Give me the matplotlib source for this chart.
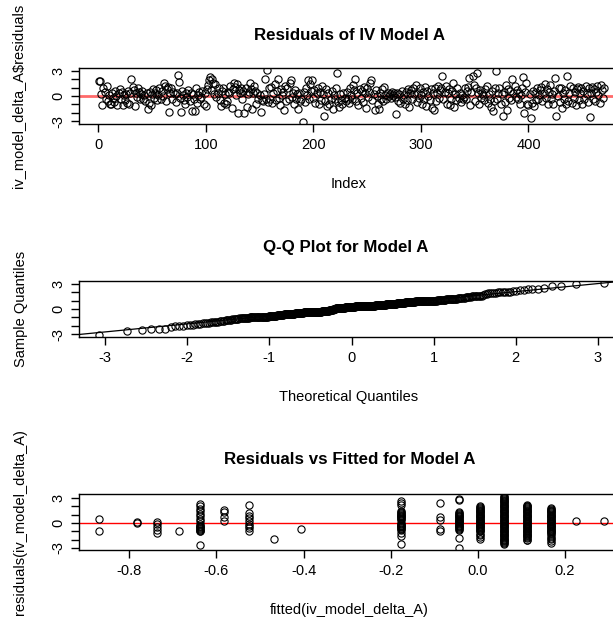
import matplotlib
matplotlib.use("Agg")
import matplotlib.pyplot as plt
import numpy as np
from statistics import NormalDist

plt.rcParams['font.family'] = ['Liberation Sans', 'DejaVu Sans']
plt.rcParams['axes.unicode_minus'] = False

# residuals in index order
resid = [
    1.8, 1.8, 0.2, -1.1, 0.9, 0.5, -0.3, 1.2, -0.6, 0.1,
    -0.9, -1.0, 0.4, -0.2, -0.7, 0.6, 0.0, -1.1, 0.3, 0.8,
    -0.4, 0.5, -1.1, 0.1, -0.5, 0.2, -0.8, 0.6, -1.0, 0.3,
    2.0, 1.1, 0.7, -1.2, 0.4, -0.1, 0.9, 0.5, -0.3, 0.2,
    0.6, -0.4, 0.1, -0.6, 0.3, -1.5, -0.8, 0.5, -1.1, 0.2,
    0.8, -0.2, 0.4, 0.7, -0.5, 0.1, 0.9, -0.3, 0.6, 0.0,
    1.5, 1.2, -0.6, 0.8, 1.1, -1.9, 0.3, 1.0, -0.4, 0.5,
    0.2, -0.7, 0.4, 2.5, 1.7, -0.2, -1.9, 0.6, 0.1, -0.5,
    -0.9, 0.3, -0.1, 0.7, -0.6, 0.4, -1.8, 0.2, -0.3, -1.8,
    0.9, -0.8, 0.1, 0.5, -0.4, -0.1, 0.6, -1.0, 0.3, -1.2,
    0.8, 1.3, 1.9, 2.3, 0.7, 2.0, 1.6, 0.2, 1.4, -0.1,
    0.4, 0.9, -0.5, -1.2, 0.6, 1.0, -0.8, 0.2, -1.0, -0.6,
    0.5, 0.3, 1.2, -1.4, 0.8, 1.5, 1.1, 0.1, 1.4, -2.0,
    0.7, 0.4, 1.0, -0.3, 0.6, -2.0, 0.9, -1.3, 0.2, 0.5,
    1.5, 0.8, -1.6, 0.3, 1.2, 0.6, -0.9, 0.4, -0.4, 0.1,
    -1.9, -0.5, -0.6, 0.2, 2.0, -0.3, 3.1, -0.7, 0.9, -0.4,
    1.1, -0.8, 0.3, 1.4, -0.5, 0.6, 2.0, -0.2, -1.1, 0.8,
    0.1, 0.5, -1.7, 1.2, -0.6, 0.9, -0.3, 1.6, 1.9, -0.1,
    0.4, -0.9, 0.7, -0.4, 0.2, -1.5, 0.3, -0.6, -0.3, -3.1,
    0.5, -0.7, 1.0, 0.1, 1.9, -0.4, 1.4, 0.6, 1.9, -0.2,
    0.7, -0.8, 0.3, 0.9, -1.0, 0.5, -0.5, 1.2, 0.2, -2.4,
    -0.6, 0.8, -1.2, 0.4, -0.9, -0.3, 0.6, -1.6, 0.1, -0.4,
    0.9, 2.7, -0.7, -1.3, 0.2, -0.5, -0.9, 0.3, -0.2, -0.6,
    0.5, -0.3, -0.8, 1.0, 0.1, -0.4, 1.3, 0.7, 2.0, -0.6,
    0.4, -1.1, 0.8, -0.2, 0.6, -0.7, 1.1, 0.3, -1.4, 0.9,
    -0.1, 0.5, 1.6, 1.9, -0.5, 0.2, -1.7, 0.7, 0.0, -0.9,
    -1.6, 0.4, -0.3, 0.8, -0.6, 1.1, 0.1, -0.4, 0.3, 0.0,
    0.2, -0.2, 0.5, 0.1, 0.3, -0.1, -2.1, 0.4, -0.6, 0.2,
    -0.8, 0.6, -0.3, 0.1, -1.0, 0.5, -0.5, 0.8, -1.3, 0.3,
    0.7, -0.4, 1.0, 0.2, 1.3, -0.7, 0.4, -0.2, 0.9, 0.1,
    -0.9, 0.5, -0.3, 1.1, -1.2, 0.6, 0.0, -0.5, 0.8, -1.4,
    0.3, -1.7, 0.9, -0.6, 0.4, 1.2, -0.2, 0.7, 1.0, 2.4,
    -0.4, 0.5, 1.2, -1.0, 0.3, 0.8, -1.1, -0.3, 0.6, 1.5,
    -1.3, 0.2, -0.5, 1.0, -0.2, 0.4, -0.7, 0.1, -0.4, -0.1,
    0.9, -0.3, 0.6, 1.1, 2.2, -1.1, 0.5, 2.4, 1.3, -0.6,
    1.0, 2.8, 0.4, -0.9, 0.7, -0.2, 0.3, 0.1, -0.5, 0.8,
    1.2, -0.8, 0.2, -0.4, -1.3, 0.6, -1.8, -0.6, 0.9, 3.0,
    -0.3, 0.4, 1.0, -0.9, 0.2, -2.4, 0.5, -0.7, 1.3, -1.7,
    0.8, -0.2, 0.6, -0.5, 2.0, 0.3, 1.2, -0.1, 0.7, -0.4,
    0.4, -0.9, 0.1, 1.0, 2.3, -2.0, 0.5, 1.5, -1.0, -1.1,
    0.2, -2.6, -0.8, 0.6, -1.2, 0.3, -0.5, 0.9, -0.3, 0.1,
    0.7, 1.1, -0.6, 0.4, 1.4, -0.2, 0.8, -1.0, 0.5, 1.3,
    -0.4, 0.2, -0.9, 0.6, 2.1, -2.4, 0.0, 0.9, -0.7, 1.0,
    -1.4, 0.3, -0.3, 0.7, -1.0, 2.4, -0.6, 0.4, 1.2, -0.8,
    0.9, -0.2, 0.5, -1.1, 0.8, 1.1, -0.5, 0.3, 1.0, -0.9,
    0.6, -0.3, 1.2, 0.2, -0.7, 0.9, -2.5, 0.4, 1.1, -0.4,
    0.8, -0.6, 0.5, 1.2, 0.1, -0.8, 1.3, 0.7, -0.2, 0.9,
]

# residuals vs fitted: fitted levels and the residuals seen at each level
fit_levels = [-0.869, -0.783, -0.737, -0.686, -0.637, -0.582, -0.526, -0.468, -0.406,
              -0.177, -0.088, -0.043, 0.006, 0.059, 0.112, 0.167, 0.226, 0.289]
fit_resid = [
    [0.5, -0.9],
    [0.1, 0.0],
    [0.15, -0.15, -0.5, -0.8, -1.2],
    [-0.9],
    [2.3, 2.0, 1.7, 1.45, 1.1, 0.8, 0.5, 0.25, -0.1, -0.3, -0.4, -0.5, -0.6, -0.7,
     -0.8, -0.9, -1.0, -2.6],
    [1.6, 1.3, 0.7, 0.3],
    [2.15, 1.2, 0.9, 0.55, 0.25, -0.1, -0.3, -0.55, -0.9],
    [-1.9],
    [-0.7],
    [2.6, 2.4, 2.2, 1.4, 1.3, 1.2, 1.1, 1.0, 0.9, 0.8, 0.7, 0.6, 0.5, 0.4, 0.05, -0.1,
     -0.2, -0.3, -0.4, -0.5, -0.6, -0.7, -0.8, -1.2, -1.6, -2.5],
    [2.4, 0.7, 0.4, -0.7, -0.9],
    [2.9, 2.75, 1.3, 1.2, 1.1, 1.0, 0.9, 0.8, 0.7, 0.6, 0.5, 0.4, 0.3, 0.2, 0.1, 0.0,
     -0.1, -0.2, -0.3, -0.4, -0.5, -0.6, -0.7, -0.8, -1.8, -3.0],
    [2.0, 1.9, 1.8, 1.7, 1.6, 1.5, 1.4, 1.3, 1.2, 1.1, 1.0, 0.9, 0.8, 0.7, 0.6, 0.5,
     0.4, 0.3, 0.2, 0.1, 0.0, -0.1, -0.2, -0.3, -0.4, -0.5, -0.6, -0.7, -0.8, -0.9,
     -1.0, -1.3, -1.5, -1.7, -1.95],
    [3.25, 3.1, 3.0, 2.9, 2.8, 2.7, 2.6, 2.5, 2.4, 2.3, 2.2, 2.1, 2.0, 1.9, 1.8, 1.7,
     1.6, 1.5, 1.4, 1.3, 1.2, 1.1, 1.0, 0.9, 0.8, 0.7, 0.6, 0.5, 0.4, 0.3, 0.2, 0.1,
     0.0, -0.1, -0.2, -0.3, -0.4, -0.5, -0.6, -0.7, -0.8, -0.9, -1.0, -1.1, -1.2, -1.3,
     -1.4, -1.5, -1.6, -1.7, -1.8, -1.9, -2.0, -2.1, -2.2, -2.3, -2.4, -2.5],
    [2.2, 2.1, 2.0, 1.9, 1.8, 1.7, 1.6, 1.5, 1.4, 1.3, 1.2, 1.1, 1.0, 0.9, 0.8, 0.7,
     0.6, 0.5, 0.4, 0.3, 0.2, 0.1, 0.0, -0.1, -0.2, -0.3, -0.4, -0.5, -0.6, -0.7, -0.8,
     -0.9, -1.0, -1.1, -1.2, -1.3, -1.4, -1.5, -1.6, -1.7, -1.85, -2.0, -2.1],
    [1.8, 1.7, 1.6, 1.5, 1.4, 1.3, 1.2, 1.1, 1.0, 0.9, 0.8, 0.7, 0.6, 0.5, 0.4, 0.3,
     0.2, 0.1, 0.0, -0.1, -0.2, -0.3, -0.4, -0.5, -0.6, -0.7, -0.8, -0.9, -1.0, -1.1,
     -1.2, -1.35, -1.6, -1.8, -1.95, -2.15, -2.35],
    [0.25],
    [0.25],
]

W, H = 613, 626
fig = plt.figure(figsize=(W / 100, H / 100), dpi=100)


def box(l, t, r, b):
    return fig.add_axes([l / W, 1 - b / H, (r - l) / W, (b - t) / H])


def rlim(v):
    lo, hi = min(v), max(v)
    pad = 0.04 * (hi - lo)
    return lo - pad, hi + pad


def style(ax):
    for s in ax.spines.values():
        s.set_linewidth(1.0)
        s.set_color('black')
    ax.tick_params(length=6, width=1.0, pad=4, labelsize=10.5, colors='black')
    ax.set_yticks([-3, -2, -1, 0, 1, 2, 3])
    ax.set_yticklabels(['-3', '', '', '0', '', '', '3'], rotation=90, va='center')


def txt(x, y, s, **kw):
    fig.text(x / W, 1 - y / H, s, ha='center', va='center', **kw)


mk = dict(ls='none', marker='o', mfc='none', mec='black', ms=5.2, mew=0.8)
L, R = 79, 624

# panel 1: residuals by index
ax1 = box(L, 68, R, 124)
idx = np.arange(1, len(resid) + 1)
ax1.plot(idx, resid, **mk)
ax1.axhline(0, color='#ff6a6a', lw=2, zorder=0)
ax1.set_xlim(rlim(idx))
ax1.set_ylim(rlim(resid))
ax1.set_xticks([0, 100, 200, 300, 400])
style(ax1)
txt(350, 35, 'Residuals of IV Model A', fontsize=12.2, fontweight='bold')
txt(349, 184, 'Index', fontsize=10.5)
txt(18, 96, 'iv_model_delta_A$residuals', fontsize=10.5, rotation=90)

# panel 2: normal Q-Q
ax2 = box(L, 281, R, 337)
n = len(resid)
samp = np.sort(resid)
theo = np.array([NormalDist().inv_cdf((i - 0.5) / n) for i in range(1, n + 1)])
ax2.plot(theo, samp, **mk)
q1, q3 = np.quantile(samp, [0.25, 0.75])
t1, t3 = NormalDist().inv_cdf(0.25), NormalDist().inv_cdf(0.75)
slope = (q3 - q1) / (t3 - t1)
ax2.axline((t1, q1), slope=slope, color='black', lw=0.9)
ax2.set_xlim(rlim(theo))
ax2.set_ylim(rlim(samp))
ax2.set_xticks([-3, -2, -1, 0, 1, 2, 3])
style(ax2)
txt(346, 247, 'Q-Q Plot for Model A', fontsize=12.2, fontweight='bold')
txt(349, 397, 'Theoretical Quantiles', fontsize=10.5)
txt(21, 309, 'Sample Quantiles', fontsize=10.5, rotation=90)

# panel 3: residuals vs fitted
ax3 = box(L, 494, R, 550)
fx = np.concatenate([[lv] * len(r) for lv, r in zip(fit_levels, fit_resid)])
fy = np.concatenate(fit_resid)
ax3.plot(fx, fy, **mk)
ax3.axhline(0, color='red', lw=1, zorder=0)
ax3.set_xlim(rlim(fx))
ax3.set_ylim(rlim(fy))
ax3.set_xticks([-0.8, -0.6, -0.4, -0.2, 0.0, 0.2])
ax3.set_xticklabels(['-0.8', '-0.6', '-0.4', '-0.2', '0.0', '0.2'])
style(ax3)
txt(350, 460, 'Residuals vs Fitted for Model A', fontsize=12.2, fontweight='bold')
txt(349, 610, 'fitted(iv_model_delta_A)', fontsize=10.5)
txt(20, 522, 'residuals(iv_model_delta_A)', fontsize=10.5, rotation=90)

fig.savefig('out.png', dpi=100)
